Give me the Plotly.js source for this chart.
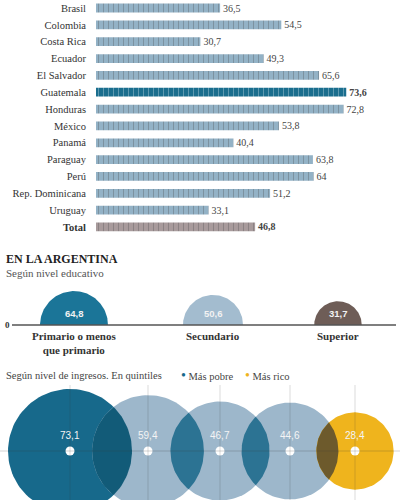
<!DOCTYPE html>
<html>
<head>
<meta charset="utf-8">
<script src="https://cdn.plot.ly/plotly-3.0.1.min.js"></script>
<style>
  html, body { margin: 0; padding: 0; background: #fff; }
  #chart { width: 400px; height: 500px; }
</style>
</head>
<body>
<div id="chart"></div>
<script>
// ---- data ----
const countries = ['Brasil', 'Colombia', 'Costa Rica', 'Ecuador', 'El Salvador', 'Guatemala',
  'Honduras', 'México', 'Panamá', 'Paraguay', 'Perú', 'Rep. Dominicana', 'Uruguay', 'Total'];
const countryValues = [36.5, 54.5, 30.7, 49.3, 65.6, 73.6, 72.8, 53.8, 40.4, 63.8, 64, 51.2, 33.1, 46.8];

const eduLevels = ['Primario o menos<br>que primario', 'Secundario', 'Superior'];
const eduValues = [64.8, 50.6, 31.7];

const quintiles = ['Más pobre', 'Quintil 2', 'Quintil 3', 'Quintil 4', 'Más rico'];
const quintileValues = [73.1, 59.4, 46.7, 44.6, 28.4];

// ---- styling / layout constants ----
const W = 400, H = 500;
const SERIF = 'Liberation Serif, DejaVu Serif, serif';
const fmt = v => String(v).replace('.', ',');
const highlight = c => c === 'Guatemala' || c === 'Total';

const barColors = countries.map(c => c === 'Guatemala' ? '#1a6e8e' : c === 'Total' ? '#a89b9c' : '#93b2c6');
const eduColors = ['#1b7598', '#a3bccf', '#6e5d57'];
const eduX = [74, 213, 338];          // horizontal placement of each education group
const eduScale = 4.22;                 // px of radius per sqrt(percent)

const qColors = ['#17698b', '#9db7cb', '#9db7cb', '#9db7cb', '#efb41d'];
const lensColors = ['#125b78', '#2c7393', '#2c7393', '#6d5a2c'];
const qX = [70, 148, 220, 290, 355];  // horizontal placement of each quintile bubble
const qScale = 7.25;                   // px of radius per sqrt(percent)

const traces = [];

// ---- bar chart by country ----
traces.push({
  type: 'bar', orientation: 'h',
  x: countryValues, y: countries, xaxis: 'x', yaxis: 'y',
  width: 0.52,
  marker: {
    color: barColors, line: { width: 0 },
    pattern: { shape: '|', fillmode: 'overlay', fgcolor: 'rgba(255,255,255,0.16)', size: 5, solidity: 0.12 }
  },
  text: countryValues.map((v, i) => highlight(countries[i]) ? '<b>' + fmt(v) + '</b>' : fmt(v)),
  textposition: 'outside', constraintext: 'none', cliponaxis: false,
  textfont: { family: SERIF, size: 10, color: '#444' },
  hoverinfo: 'skip'
});

// ---- half circles by education level ----
eduValues.forEach((v, i) => {
  const r = eduScale * Math.sqrt(v);
  const xs = [], ys = [];
  for (let k = 0; k <= 80; k++) {
    const t = Math.PI * k / 80;
    xs.push(eduX[i] + r * Math.cos(t));
    ys.push(r * Math.sin(t));
  }
  traces.push({ type: 'scatter', mode: 'lines', x: xs, y: ys, xaxis: 'x2', yaxis: 'y2',
    fill: 'toself', fillcolor: eduColors[i], line: { width: 0 }, hoverinfo: 'skip' });
});

// ---- bubbles by income quintile ----
const qR = quintileValues.map(v => qScale * Math.sqrt(v));
qR.forEach((r, i) => {
  const xs = [], ys = [];
  for (let k = 0; k <= 120; k++) {
    const t = 2 * Math.PI * k / 120;
    xs.push(qX[i] + r * Math.cos(t));
    ys.push(r * Math.sin(t));
  }
  traces.push({ type: 'scatter', mode: 'lines', x: xs, y: ys, xaxis: 'x3', yaxis: 'y3',
    fill: 'toself', fillcolor: qColors[i], line: { width: 0 }, hoverinfo: 'skip' });
});
// overlap lens between neighbouring bubbles
for (let i = 0; i < qR.length - 1; i++) {
  const r1 = qR[i], r2 = qR[i + 1], d = qX[i + 1] - qX[i];
  const a = (d * d + r1 * r1 - r2 * r2) / (2 * d);
  const h = Math.sqrt(r1 * r1 - a * a);
  const a1 = Math.atan2(h, a), a2 = Math.atan2(h, d - a);
  const xs = [], ys = [];
  for (let k = 0; k <= 40; k++) {
    const t = -a1 + 2 * a1 * k / 40;
    xs.push(qX[i] + r1 * Math.cos(t)); ys.push(r1 * Math.sin(t));
  }
  for (let k = 0; k <= 40; k++) {
    const t = Math.PI - a2 + 2 * a2 * k / 40;
    xs.push(qX[i + 1] + r2 * Math.cos(t)); ys.push(r2 * Math.sin(t));
  }
  traces.push({ type: 'scatter', mode: 'lines', x: xs, y: ys, xaxis: 'x3', yaxis: 'y3',
    fill: 'toself', fillcolor: lensColors[i], line: { width: 0 }, hoverinfo: 'skip' });
}
// centre dots
traces.push({ type: 'scatter', mode: 'markers', x: qX, y: qX.map(() => 0), xaxis: 'x3', yaxis: 'y3',
  marker: { size: 9, color: '#ffffff' }, hoverinfo: 'skip', cliponaxis: false });

// ---- annotations ----
const P = (text, xPx, yPx, opts = {}) => Object.assign({
  text, xref: 'paper', yref: 'paper', x: xPx / W, y: 1 - yPx / H, showarrow: false,
  xanchor: 'left', yanchor: 'middle', font: { family: SERIF, size: 10.5, color: '#444' }
}, opts);

const annotations = [
  P('<b>EN LA ARGENTINA</b>', 4, 259, { font: { family: SERIF, size: 12, color: '#222' } }),
  P('Según nivel educativo', 4, 273, { font: { family: SERIF, size: 11, color: '#555' } }),
  P('Según nivel de ingresos. En quintiles', 4, 375, { font: { family: SERIF, size: 10.5, color: '#444' } }),
  P('<span style="color:#17698b;font-size:14px">•</span> Más pobre', 179, 375, { font: { family: SERIF, size: 10.5, color: '#444' } }),
  P('<span style="color:#efb41d;font-size:14px">•</span> Más rico', 243, 375, { font: { family: SERIF, size: 10.5, color: '#444' } }),
  { text: '<b>0</b>', xref: 'x2', yref: 'y2', x: 7, y: 0, showarrow: false,
    font: { family: SERIF, size: 9, color: '#333' } }
];
eduValues.forEach((v, i) => {
  annotations.push({ text: '<b>' + fmt(v) + '</b>', xref: 'x2', yref: 'y2', x: eduX[i], y: 12,
    showarrow: false, font: { family: 'Liberation Sans, sans-serif', size: 9.5, color: '#f2f2f2' } });
  annotations.push({ text: '<b>' + eduLevels[i] + '</b>', xref: 'x2', yref: 'y2', x: eduX[i], y: -3,
    yanchor: 'top', showarrow: false, font: { family: SERIF, size: 11, color: '#333' } });
});
quintileValues.forEach((v, i) => {
  annotations.push({ text: fmt(v), xref: 'x3', yref: 'y3', x: qX[i], y: 16, showarrow: false,
    font: { family: 'Liberation Sans, sans-serif', size: 10, color: '#f4f4f4' } });
});

// ---- shapes: baseline and guide lines ----
const shapes = [
  { type: 'line', xref: 'x2', yref: 'y2', x0: 12, x1: 396, y0: 0, y1: 0,
    line: { color: '#555', width: 1.5 }, layer: 'above' },
  { type: 'line', xref: 'x3', yref: 'y3', x0: 0, x1: 400, y0: 0, y1: 0,
    line: { color: 'rgba(60,60,60,0.22)', width: 1 }, layer: 'above' }
];
qX.forEach(x => shapes.push({ type: 'line', xref: 'x3', yref: 'y3', x0: x, x1: x, y0: -49, y1: 66,
  line: { color: 'rgba(60,60,60,0.18)', width: 1 }, layer: 'above' }));

const hidden = { visible: false, showgrid: false, zeroline: false, fixedrange: true };

const layout = {
  width: W, height: H, margin: { l: 0, r: 0, t: 0, b: 0 },
  paper_bgcolor: '#ffffff', plot_bgcolor: 'rgba(0,0,0,0)',
  showlegend: false,
  xaxis: Object.assign({}, hidden, { domain: [96 / W, 1], range: [0, (W - 96) / 3.4], anchor: 'y' }),
  yaxis: {
    type: 'category', categoryorder: 'array', categoryarray: countries,
    domain: [1 - 235.4 / H, 1], range: [13.5, -0.475], anchor: 'x',
    tickvals: countries, ticktext: countries.map(c => c === 'Total' ? '<b>Total</b>' : c),
    ticks: '', ticklabelstandoff: 9, showgrid: false, zeroline: false, showline: false,
    tickfont: { family: SERIF, size: 10.5, color: '#333' }, fixedrange: true
  },
  xaxis2: Object.assign({}, hidden, { domain: [0, 1], range: [0, 400], anchor: 'y2' }),
  yaxis2: Object.assign({}, hidden, { domain: [1 - 360 / H, 1 - 280 / H], range: [-35, 45], anchor: 'x2' }),
  xaxis3: Object.assign({}, hidden, { domain: [0, 1], range: [0, 400], anchor: 'y3' }),
  yaxis3: Object.assign({}, hidden, { domain: [0, 1 - 385 / H], range: [-49, 66], anchor: 'x3' }),
  annotations, shapes
};

Plotly.newPlot('chart', traces, layout, { displayModeBar: false, staticPlot: true });
</script>
</body>
</html>
